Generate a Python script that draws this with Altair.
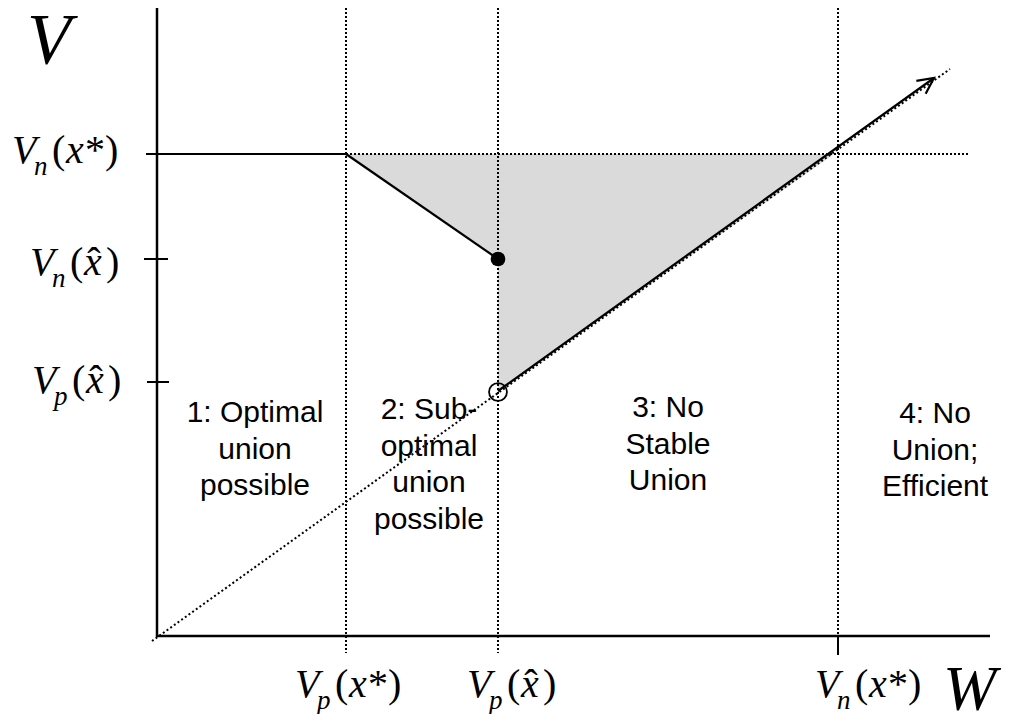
import math
import altair as alt
import pandas as pd

# ---------------- data (plot units: 1 unit = 1 px of the layout) ----------------
x_tick_values = [189, 341, 681]          # Vp(x*), Vp(x^), Vn(x*)
y_tick_values = [482, 377, 254]          # Vn(x*), Vn(x^), Vp(x^)

diag_w = [-5, 793]                       # dotted 45-degree line V = W
diag_v = [-5, 567]

flat_w = [0, 189]                        # solid flat part at Vn(x*)
flat_v = [482, 482]
hdot_w = [189, 813]                      # dotted continuation at Vn(x*)
drop_w = [189, 341]                      # solid segment down to Vn(x^)
drop_v = [482, 377]
arrow_w = [341, 777]                     # solid arrow along diagonal
arrow_v = [245, 558]

# shaded region (two pieces, left of and right of Vp(x^))
shade1_w = [189, 341]
shade1_top = [482, 482]
shade1_bottom = [482, 377]
shade2_w = [341, 677]
shade2_top = [482, 482]
shade2_bottom = [244, 482]

filled_w, filled_v = [341], [377]
open_w, open_v = [341], [244]

vline_top = [628, 628, 628]
vline_bottom = [-17, -17, 0]

region_text = ["1: Optimal\nunion\npossible",
               "2: Sub-\noptimal\nunion\npossible",
               "3: No\nStable\nUnion",
               "4: No\nUnion;\nEfficient"]
region_center = [98, 272, 511, 778]
region_base = [214, 217, 219, 213]

# axis label specs: (left, baseline, subscript, hat)
y_labels = [(-145, 473, "n", False), (-127, 361, "n", True), (-125, 243, "p", True)]
x_labels = [(x_tick_values[0] - 51, -61, "p", False),
            (x_tick_values[1] - 31, -61, "p", True),
            (x_tick_values[2] - 23, -61, "n", False)]

# ---------------- helpers ----------------
XS = alt.Scale(domain=[0, 833], nice=False, zero=False)
YS = alt.Scale(domain=[0, 628], nice=False, zero=False)


def X(f):
    return alt.X(f, type="quantitative", scale=XS, axis=None)


def Y(f):
    return alt.Y(f, type="quantitative", scale=YS, axis=None)


def segs(x1, y1, x2, y2):
    return pd.DataFrame({"x": x1, "y": y1, "x2": x2, "y2": y2})


def rule(df, **kw):
    return alt.Chart(df).mark_rule(color="black", **kw).encode(
        x=X("x"), y=Y("y"), x2="x2", y2="y2")


def area(w, top, bottom):
    return alt.Chart(pd.DataFrame({"x": w, "y": top, "y2": bottom})).mark_area(
        color="#dadada", opacity=1, interpolate="linear").encode(
        x=X("x"), y=Y("y"), y2="y2")


ital_main, ital_sub, upright, hats = [], [], [], []
for left, base, sub, hat in y_labels + x_labels:
    ital_main.append({"x": left, "y": base, "t": "V"})
    ital_sub.append({"x": left + 22, "y": base - 12, "t": sub})
    upright.append({"x": left + 40, "y": base, "t": "("})
    ital_main.append({"x": left + 54, "y": base, "t": "x"})
    if hat:
        hats.append({"x": left + 64, "y": base, "t": "\u02c6"})
        upright.append({"x": left + 76, "y": base, "t": ")"})
    else:
        upright.append({"x": left + 73, "y": base, "t": "*"})
        upright.append({"x": left + 93, "y": base, "t": ")"})

SERIF = "Liberation Serif"


def txt(rows, size, style="normal", align="left"):
    return alt.Chart(pd.DataFrame(rows)).mark_text(
        font=SERIF, fontSize=size, fontStyle=style, align=align,
        baseline="alphabetic", color="black").encode(x=X("x"), y=Y("y"), text="t:N")


# ---------------- layers ----------------
shade1 = area(shade1_w, shade1_top, shade1_bottom)
shade2 = area(shade2_w, shade2_top, shade2_bottom)

axes = rule(segs([0, -1], [-1, 0], [0, 833], [628, 0]), strokeWidth=2.5)
yticks = rule(segs([-11, -13, -10], y_tick_values, [0, 11, 12], y_tick_values), strokeWidth=2)
xtick = rule(segs([x_tick_values[2]], [0], [x_tick_values[2]], [-19]), strokeWidth=2)
vlines = rule(segs(x_tick_values, vline_top, x_tick_values, vline_bottom),
              strokeWidth=2, strokeDash=[2, 2])
hdot = rule(segs([hdot_w[0]], [flat_v[0]], [hdot_w[1]], [flat_v[0]]),
            strokeWidth=2, strokeDash=[2, 2])
diag = rule(segs([diag_w[0]], [diag_v[0]], [diag_w[1]], [diag_v[1]]),
            strokeWidth=2, strokeDash=[2, 2.5])
flat = rule(segs([flat_w[0]], [flat_v[0]], [flat_w[1]], [flat_v[1]]), strokeWidth=2.2)
drop = rule(segs([drop_w[0]], [drop_v[0]], [drop_w[1]], [drop_v[1]]), strokeWidth=2.2)
arrow_line = rule(segs([arrow_w[0]], [arrow_v[0]], [arrow_w[1]], [arrow_v[1]]), strokeWidth=2.2)

ang = math.degrees(math.atan2(-(arrow_v[1] - arrow_v[0]), arrow_w[1] - arrow_w[0])) % 360
arrow_head = alt.Chart(pd.DataFrame({"x": [arrow_w[1]], "y": [arrow_v[1]]})).mark_point(
    shape="M -1 -0.5 L 0 0 L -1 0.5", size=1024, filled=False, strokeWidth=2.2,
    color="black", angle=ang, opacity=1).encode(x=X("x"), y=Y("y"))

filled_dot = alt.Chart(pd.DataFrame({"x": filled_w, "y": filled_v})).mark_point(
    shape="circle", size=216, filled=True, color="black", opacity=1).encode(x=X("x"), y=Y("y"))
open_dot = alt.Chart(pd.DataFrame({"x": open_w, "y": open_v})).mark_point(
    shape="circle", size=320, filled=False, color="black", strokeWidth=1.8,
    opacity=1).encode(x=X("x"), y=Y("y"))

regions = alt.Chart(pd.DataFrame({"x": region_center, "y": region_base, "t": region_text})).mark_text(
    font="Liberation Sans", fontSize=30, lineBreak="\n", lineHeight=36.5,
    align="center", baseline="alphabetic", color="black").encode(x=X("x"), y=Y("y"), text="t:N")

big_v = txt([{"x": -130, "y": 573, "t": "V"}], 72, "italic")
big_w = txt([{"x": 786, "y": -74, "t": "W"}], 64, "italic")

labels = [txt(ital_main, 40, "italic"), txt(ital_sub, 27, "italic"),
          txt(upright, 40), txt(hats, 40, align="center")]

chart = alt.layer(
    shade1, shade2, vlines, hdot, diag, axes, yticks, xtick, flat, drop, arrow_line,
    arrow_head, filled_dot, open_dot, regions, big_v, big_w, *labels
).properties(
    width=833, height=628,
    padding={"left": 149, "top": 0, "right": 18, "bottom": 78},
    autosize=alt.AutoSizeParams(type="none"),
).configure_view(stroke=None)

chart.save("out.html", embed_options={"renderer": "svg", "actions": False})
